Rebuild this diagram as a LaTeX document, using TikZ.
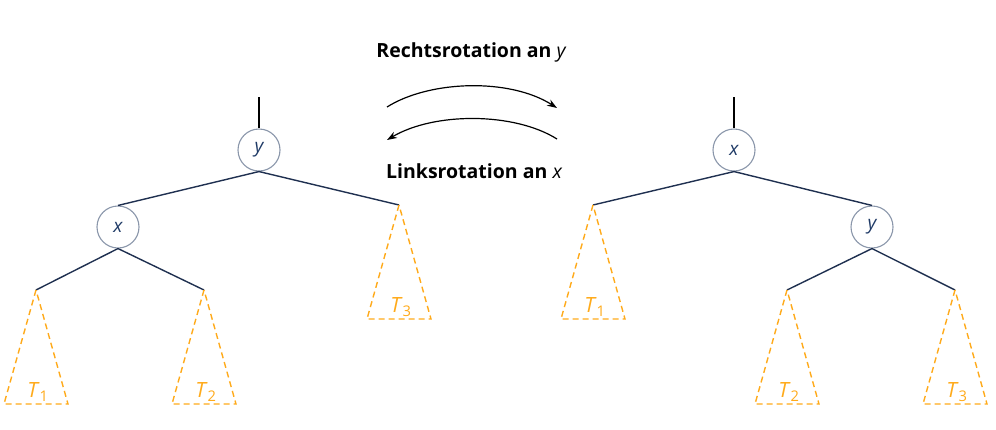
\documentclass[tikz,border=0pt]{standalone}
\usepackage{fontspec}
\setmainfont{Open Sans}
\usetikzlibrary{arrows.meta,calc}
\definecolor{navy}{HTML}{1F3050}
\definecolor{ntext}{HTML}{1F3A66}
\definecolor{ring}{HTML}{8A96AA}
\definecolor{subt}{HTML}{FFAA1A}
\tikzset{
  tnode/.style={circle,draw=ring,line width=1.1pt,minimum size=42pt,inner sep=0pt,text=ntext,font=\fontsize{19}{20}\selectfont\itshape},
  edge/.style={navy,line width=1.4pt},
  stem/.style={black,line width=1.2pt},
  tri/.style={subt,line width=1.4pt,dash pattern=on 6pt off 4pt},
  tlabel/.style={subt,font=\fontsize{21}{22}\selectfont},
  caption/.style={font=\fontsize{19.5}{22}\selectfont\bfseries},
  rot/.style={line width=1.2pt,-{Stealth[length=10pt,width=7pt]}}
}
\newcommand{\tri}[2]{\draw[tri] (#1) -- ++(-32,114) -- ++(64,0) -- cycle;
  \node[tlabel] at ($(#1)+(2,102)$) {\textit{T}\textsubscript{#2}};}
\begin{document}
\begin{tikzpicture}[x=1pt,y=-1pt]
\useasboundingbox (0,0) rectangle (996,429);
% left tree
\coordinate (ltop) at (259,97);
\node[tnode] (ly) at (259,150) {y};
\node[tnode] (lx) at (118,227) {x};
\coordinate (lt1) at (36,290);
\coordinate (lt2) at (204,290);
\coordinate (lt3) at (399,205);
\draw[stem] (ltop) -- (ly);
\draw[edge] (ly.south) -- (lx.north);
\draw[edge] (ly.south) -- (lt3);
\draw[edge] (lx.south) -- (lt1);
\draw[edge] (lx.south) -- (lt2);
\tri{lt1}{1}
\tri{lt2}{2}
\tri{lt3}{3}
% right tree
\coordinate (rtop) at (734,97);
\node[tnode] (rx) at (734,150) {x};
\node[tnode] (ry) at (872,227) {y};
\coordinate (rt1) at (593,205);
\coordinate (rt2) at (787,290);
\coordinate (rt3) at (955,290);
\draw[stem] (rtop) -- (rx);
\draw[edge] (rx.south) -- (rt1);
\draw[edge] (rx.south) -- (ry.north);
\draw[edge] (ry.south) -- (rt2);
\draw[edge] (ry.south) -- (rt3);
\tri{rt1}{1}
\tri{rt2}{2}
\tri{rt3}{3}
% rotation arrows
\coordinate (a1) at (387,107);
\coordinate (a2) at (557,108);
\coordinate (b1) at (557,139);
\coordinate (b2) at (387,140);
\draw[rot] (a1) .. controls (430,80) and (510,78) .. (a2);
\draw[rot] (b1) .. controls (514,112) and (434,112) .. (b2);
\node[caption] (c1) at (471,52) {Rechtsrotation an {\mdseries\itshape y}};
\node[caption] (c2) at (474,171) {Linksrotation an {\mdseries\itshape x}};
\end{tikzpicture}
\end{document}
